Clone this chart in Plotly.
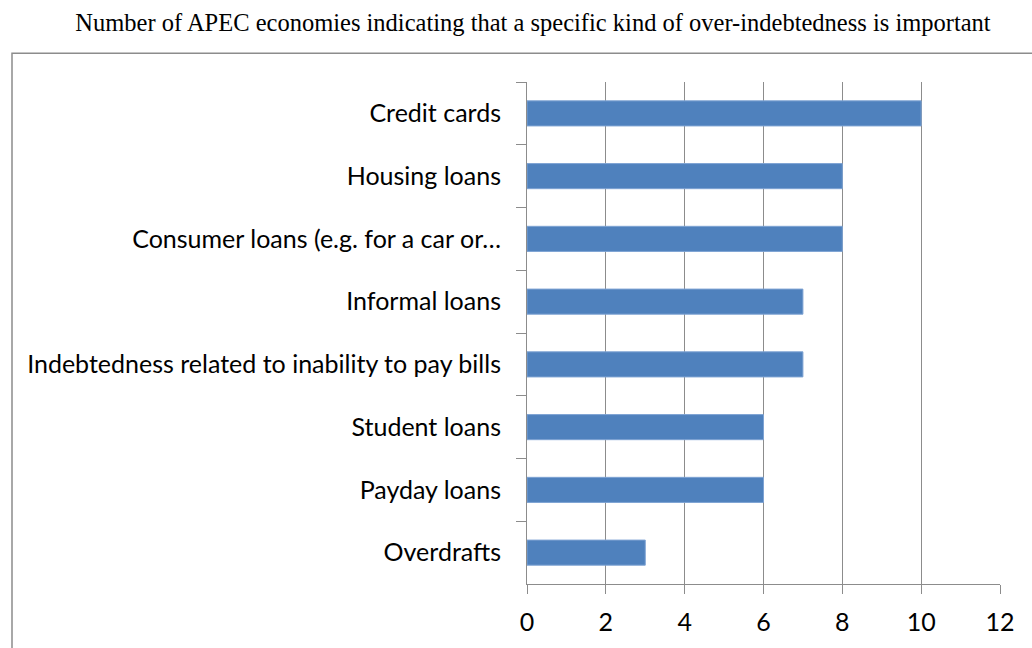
import plotly.graph_objects as go

categories = [
    "Credit cards",
    "Housing loans",
    "Consumer loans (e.g. for a car or\u2026",
    "Informal loans",
    "Indebtedness related to inability to pay bills",
    "Student loans",
    "Payday loans",
    "Overdrafts",
]
values = [10, 8, 8, 7, 7, 6, 6, 3]
x_ticks = [0, 2, 4, 6, 8, 10, 12]
title_text = "Number of APEC economies indicating that a specific kind of over-indebtedness is important"

W, H = 1032, 648
L, R, T, B = 527, 32, 82, 61
LABEL_FONT = "Lato, Calibri, sans-serif"

fig = go.Figure(
    go.Bar(
        x=values,
        y=categories,
        orientation="h",
        marker=dict(color="#4F81BD", line=dict(color="#7EA3D3", width=1)),
        width=0.4,
        hoverinfo="x+y",
    )
)

pw = W - L - R
ph = H - T - B
fig.add_shape(
    type="rect",
    xref="paper", yref="paper",
    x0=(12 - L) / pw, x1=(W + 10 - L) / pw,
    y0=-(H + 10 - (H - B)) / ph, y1=((H - B) - 53) / ph,
    line=dict(color="#8C8C8C", width=1.5),
    fillcolor="rgba(0,0,0,0)",
    layer="below",
)

fig.update_layout(
    width=W, height=H,
    margin=dict(l=L, r=R, t=T, b=B),
    paper_bgcolor="white",
    plot_bgcolor="white",
    showlegend=False,
    title=dict(
        text=title_text,
        xref="container", x=533 / W, xanchor="center",
        yref="container", y=1 - 22 / H, yanchor="middle",
        font=dict(family="Liberation Serif, Times New Roman, serif", size=24.5, color="#000000"),
    ),
    font=dict(family=LABEL_FONT, size=25, color="#000000"),
)

fig.update_xaxes(
    range=[0, 12],
    tickvals=x_ticks,
    ticktext=[str(v) for v in x_ticks],
    showgrid=True, gridcolor="#8C8C8C", gridwidth=1,
    showline=True, linecolor="#8C8C8C", linewidth=1,
    ticks="outside", ticklen=9, tickcolor="#8C8C8C",
    tickfont=dict(family=LABEL_FONT, size=25, color="#000000"),
    zeroline=False,
    ticklabelstandoff=7,
    fixedrange=True,
)
fig.update_yaxes(
    categoryorder="array",
    categoryarray=categories,
    autorange="reversed",
    showline=True, linecolor="#8C8C8C", linewidth=1,
    ticks="outside", ticklen=10, tickcolor="#8C8C8C",
    tickson="boundaries",
    showgrid=False,
    tickfont=dict(family=LABEL_FONT, size=25, color="#000000"),
    ticklabelstandoff=20,
    fixedrange=True,
)

fig.write_html("out.html")
